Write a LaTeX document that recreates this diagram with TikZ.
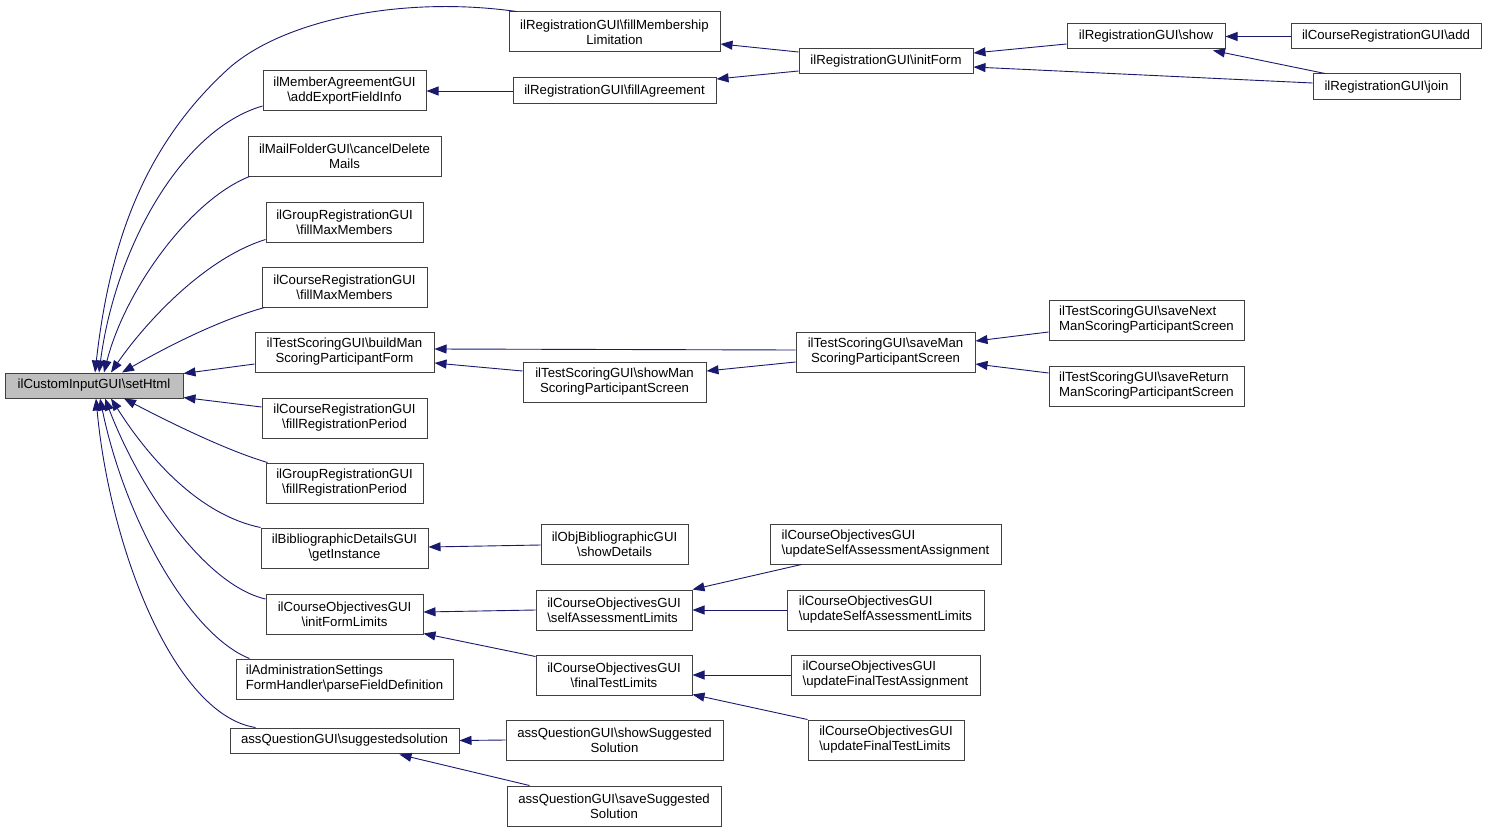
\documentclass[tikz,border=0pt]{standalone}
\usepackage{fontspec}
\setmainfont{Liberation Sans}
\usetikzlibrary{arrows.meta}
\newcommand\myBS{\textbackslash}
\definecolor{edgec}{HTML}{191970}
\definecolor{boxc}{HTML}{404040}
\definecolor{hlfill}{HTML}{BFBFBF}
\begin{document}
\begin{tikzpicture}[x=1pt,y=-1pt,
  fn/.style={draw=boxc, line width=1pt, fill=white, inner sep=0pt, align=center,
    font=\fontsize{13.2}{15}\selectfont, minimum height=40pt},
  fnl/.style={fn, align=left},
  one/.style={minimum height=25pt},
  e/.style={draw=edgec, line width=0.9pt, {Triangle[length=12pt,width=9pt]}-}
]
\useasboundingbox[fill=white] (0,0) rectangle (1487,832);

% column 0
\node[fn, one, fill=hlfill, minimum width=178pt] (setHtml) at (94,385.5) {ilCustomInputGUI\myBS{}setHtml};

% column 1
\node[fn, minimum width=163pt] (addExp) at (344.5,91) {ilMemberAgreementGUI\\\myBS{}addExportFieldInfo};
\node[fn, minimum width=193pt] (cancelDel) at (344.5,156) {ilMailFolderGUI\myBS{}cancelDelete\\Mails};
\node[fn, minimum width=157pt] (grpMax) at (344.5,222) {ilGroupRegistrationGUI\\\myBS{}fillMaxMembers};
\node[fn, minimum width=165pt] (crsMax) at (344.5,287) {ilCourseRegistrationGUI\\\myBS{}fillMaxMembers};
\node[fn, minimum width=179pt] (buildMan) at (344.5,352) {ilTestScoringGUI\myBS{}buildMan\\ScoringParticipantForm};
\node[fn, minimum width=165pt] (crsRegP) at (344.5,418) {ilCourseRegistrationGUI\\\myBS{}fillRegistrationPeriod};
\node[fn, minimum width=157pt] (grpRegP) at (344.5,483) {ilGroupRegistrationGUI\\\myBS{}fillRegistrationPeriod};
\node[fn, minimum width=167pt] (getInst) at (344.5,548) {ilBibliographicDetailsGUI\\\myBS{}getInstance};
\node[fn, minimum width=157pt] (initFL) at (344.5,614) {ilCourseObjectivesGUI\\\myBS{}initFormLimits};
\node[fnl, minimum width=217pt] (parseFD) at (344.5,679) {ilAdministrationSettings\\FormHandler\myBS{}parseFieldDefinition};
\node[fn, one, minimum width=229pt] (sugg) at (344.5,740.5) {assQuestionGUI\myBS{}suggestedsolution};

% column 2
\node[fn, minimum width=211pt] (fillMem) at (614.5,32) {ilRegistrationGUI\myBS{}fillMembership\\Limitation};
\node[fn, one, minimum width=203pt, minimum height=26pt] (fillAgr) at (614.5,91) {ilRegistrationGUI\myBS{}fillAgreement};
\node[fn, minimum width=183pt] (showMan) at (614.5,382) {ilTestScoringGUI\myBS{}showMan\\ScoringParticipantScreen};
\node[fn, minimum width=147pt] (showDet) at (614.5,544) {ilObjBibliographicGUI\\\myBS{}showDetails};
\node[fnl, minimum width=156pt] (selfAL) at (614,610) {ilCourseObjectivesGUI\\\myBS{}selfAssessmentLimits};
\node[fn, minimum width=156pt] (finalTL) at (614,675) {ilCourseObjectivesGUI\\\myBS{}finalTestLimits};
\node[fn, minimum width=217pt] (showSugg) at (614.5,740) {assQuestionGUI\myBS{}showSuggested\\Solution};
\node[fn, minimum width=214pt] (saveSugg) at (614,806) {assQuestionGUI\myBS{}saveSuggested\\Solution};

% column 3
\node[fn, one, minimum width=174pt] (initForm) at (886,61.5) {ilRegistrationGUI\myBS{}initForm};
\node[fn, minimum width=179pt] (saveMan) at (885.5,352) {ilTestScoringGUI\myBS{}saveMan\\ScoringParticipantScreen};
\node[fnl, minimum width=231pt] (updSAA) at (885.5,544) {ilCourseObjectivesGUI\\\myBS{}updateSelfAssessmentAssignment};
\node[fnl, minimum width=197pt] (updSAL) at (885.5,610) {ilCourseObjectivesGUI\\\myBS{}updateSelfAssessmentLimits};
\node[fnl, minimum width=189pt] (updFTA) at (885.5,675) {ilCourseObjectivesGUI\\\myBS{}updateFinalTestAssignment};
\node[fnl, minimum width=156pt] (updFTL) at (886,740) {ilCourseObjectivesGUI\\\myBS{}updateFinalTestLimits};

% column 4
\node[fn, one, minimum width=158pt] (show) at (1146,36.5) {ilRegistrationGUI\myBS{}show};
\node[fnl, minimum width=195pt] (saveNext) at (1146.5,320) {ilTestScoringGUI\myBS{}saveNext\\ManScoringParticipantScreen};
\node[fnl, minimum width=195pt] (saveRet) at (1146.5,386) {ilTestScoringGUI\myBS{}saveReturn\\ManScoringParticipantScreen};

% column 5
\node[fn, one, minimum width=190pt] (add) at (1386,36.5) {ilCourseRegistrationGUI\myBS{}add};
\node[fn, one, minimum width=147pt, minimum height=26pt] (join) at (1386.5,87) {ilRegistrationGUI\myBS{}join};

% curved edges into setHtml (top)
\draw[e] ([xshift=1pt]setHtml.north) .. controls (109,250) and (140,150) .. (227,70)
  .. controls (280,21) and (400,-5) .. ([shift={(8,0)}]fillMem.north west);
\draw[e] ([xshift=5pt]setHtml.north) .. controls (115,250) and (180,130) .. ([shift={(0,15)}]addExp.west);
\draw[e] ([xshift=10pt]setHtml.north) .. controls (125,290) and (190,200) .. ([shift={(2,0)}]cancelDel.south west);
\draw[e] ([xshift=17pt]setHtml.north) .. controls (140,330) and (200,260) .. ([shift={(0,-3)}]grpMax.south west);
\draw[e] ([xshift=28pt]setHtml.north) .. controls (170,345) and (220,320) .. ([shift={(3,0)}]crsMax.south west);
\draw[e] ([shift={(0,-12)}]setHtml.east) -- ([shift={(0,12)}]buildMan.west);
\draw[e] ([shift={(0,12)}]setHtml.east) -- ([shift={(0,-11)}]crsRegP.west);
% curved edges into setHtml (bottom)
\draw[e] ([xshift=30pt]setHtml.south) .. controls (165,420) and (225,450) .. ([shift={(2,0)}]grpRegP.north west);
\draw[e] ([xshift=17pt]setHtml.south) .. controls (150,460) and (200,515) .. (getInst.north west);
\draw[e] ([xshift=11pt]setHtml.south) .. controls (140,490) and (205,585) .. ([shift={(0,-15)}]initFL.west);
\draw[e] ([xshift=6pt]setHtml.south) .. controls (125,520) and (190,635) .. ([shift={(14,0)}]parseFD.north west);
\draw[e] ([xshift=2pt]setHtml.south) .. controls (110,550) and (175,715) .. ([shift={(26,0)}]sugg.north west);

% other edges
\draw[e] (addExp.east) -- (fillAgr.west);
\draw[e] ([shift={(0,12)}]fillMem.east) -- ([shift={(0,-9.5)}]initForm.west);
\draw[e] ([shift={(0,-12)}]fillAgr.east) -- ([shift={(0,9.5)}]initForm.west);
\draw[e] ([shift={(0,-8.5)}]initForm.east) -- ([shift={(0,7.5)}]show.west);
\draw[e] ([shift={(0,5.5)}]initForm.east) -- ([shift={(0,-4)}]join.west);
\draw[e] (show.east) -- (add.west);
\draw[e] ([shift={(67,1)}]show.south) -- ([shift={(-61.5,0)}]join.north);
\draw[e] ([shift={(0,-3)}]buildMan.east) -- ([shift={(0,-2)}]saveMan.west);
\draw[e] ([shift={(0,11)}]buildMan.east) -- ([shift={(0,-11)}]showMan.west);
\draw[e] ([shift={(0,-11)}]showMan.east) -- ([shift={(0,10)}]saveMan.west);
\draw[e] ([shift={(0,-11)}]saveMan.east) -- ([shift={(0,12)}]saveNext.west);
\draw[e] ([shift={(0,12)}]saveMan.east) -- ([shift={(0,-13)}]saveRet.west);
\draw[e] ([shift={(0,-1)}]getInst.east) -- ([shift={(0,1)}]showDet.west);
\draw[e] ([shift={(0,-2)}]initFL.east) -- (selfAL.west);
\draw[e] ([shift={(0,-1)}]initFL.south east) -- ([shift={(0,2)}]finalTL.north west);
\draw[e] (selfAL.north east) -- ([shift={(32,0)}]updSAA.south west);
\draw[e] (selfAL.east) -- (updSAL.west);
\draw[e] (finalTL.east) -- (updFTA.west);
\draw[e] ([shift={(0,-1)}]finalTL.south east) -- (updFTL.north west);
\draw[e] (sugg.east) -- (showSugg.west);
\draw[e] ([shift={(55,1)}]sugg.south) -- ([shift={(23,0)}]saveSugg.north west);
\end{tikzpicture}
\end{document}
